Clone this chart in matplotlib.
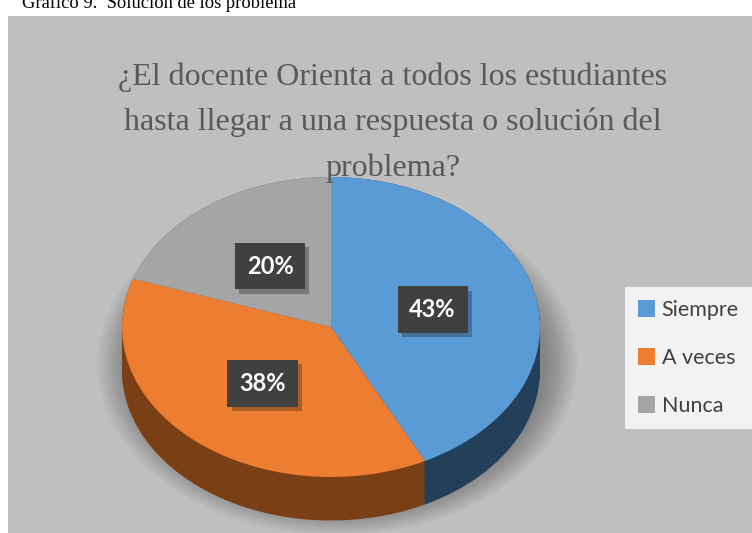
import numpy as np
import matplotlib
matplotlib.use("Agg")
import matplotlib.pyplot as plt
from matplotlib.patches import Rectangle, Ellipse
import matplotlib.patheffects as pe

#------------------------------- CHART DATA -----------------------------------

categories = ["Siempre", "A veces", "Nunca"]
values = [43, 38, 20]
top_colors = ["#5b9bd5", "#ed7d31", "#a5a5a5"]
side_colors = ["#233f5a", "#7b3f15", "#5a5a5a"]

title = ("¿El docente Orienta a todos los estudiantes\n"
         "hasta llegar a una respuesta o solución del\nproblema?")
caption = "Gráfico 9.  Solución de los problema"

#------------------------------ FIGURE SETUP ----------------------------------

W, H = 752, 533
fig = plt.figure(figsize=(W / 100, H / 100), dpi=100)
fig.patch.set_facecolor("white")

#background axes in pixel coordinates (y down)
bg = fig.add_axes([0, 0, 1, 1])
bg.set_xlim(0, W)
bg.set_ylim(H, 0)
bg.axis("off")
bg.add_patch(Rectangle((8, 16), W - 8, H - 16, facecolor="#bfbfbf",
                       edgecolor="none"))

fig.text(22 / W, 1 - 8 / H, caption, fontsize=13.3, family="Liberation Serif",
         color="black", va="baseline", ha="left")

fig.text(393 / W, 1 - 62 / H, title, fontsize=23, family="Liberation Serif",
         color="#595959", va="top", ha="center", multialignment="center",
         linespacing=1.72)

#pie axes: 1 data unit = rx pixels horizontally, ry pixels vertically
cx, cy, rx, ry = 331, 327, 209, 150
depth = 0.29
ax = fig.add_axes([0, 0, 1, 1])
ax.patch.set_alpha(0)

#soft shadow beneath the pie
for i in range(16):
    s = 1.0 + 0.01 * i
    ax.add_patch(Ellipse((0.03, -0.24), 2 * s, 2 * s,
                         facecolor="black", alpha=0.02, lw=0, zorder=0))

#extruded side, stacked layers
for k in np.linspace(depth, 0.0, 25):
    ax.pie(values, colors=side_colors, startangle=90, counterclock=False,
           center=(0, -k), wedgeprops=dict(linewidth=0))

wedges, _, autotexts = ax.pie(
    values, colors=top_colors, startangle=90, counterclock=False,
    autopct="%.0f%%", pctdistance=0.5, wedgeprops=dict(linewidth=0),
    textprops=dict(color="white", fontsize=17, fontweight="bold",
                   family="Lato"))

for t in autotexts:
    t.set_bbox(dict(facecolor="#404040", edgecolor="none",
                    boxstyle="square,pad=0.5"))
    t.get_bbox_patch().set_path_effects(
        [pe.SimplePatchShadow(offset=(3, -3), alpha=0.3), pe.Normal()])

ax.set_aspect("auto")
ax.set_xlim(-cx / rx, (W - cx) / rx)
ax.set_ylim(-(H - cy) / ry, cy / ry)
ax.axis("off")

#legend
leg = fig.legend(wedges, categories, loc="upper left",
                 bbox_to_anchor=(625 / W, 1 - 287 / H),
                 prop=dict(family="Lato", size=15.5), labelcolor="#404040",
                 frameon=True, fancybox=False, facecolor="#f2f2f2",
                 edgecolor="none", framealpha=1, handlelength=0.8,
                 handleheight=0.8, handletextpad=0.3, labelspacing=1.3,
                 borderpad=0.6, borderaxespad=0)

fig.savefig("out.png", dpi=100, facecolor=fig.get_facecolor())
